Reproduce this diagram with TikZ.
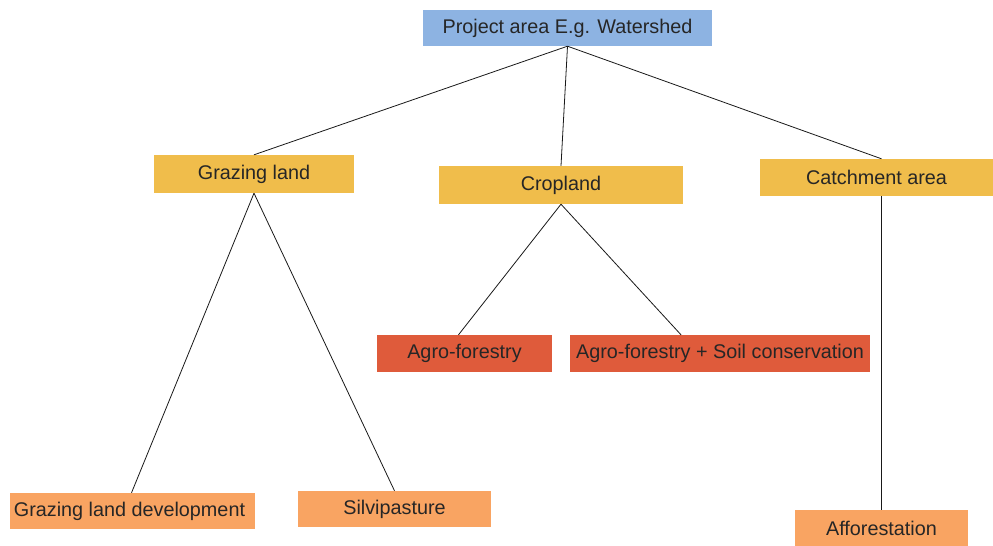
\documentclass[tikz,border=0pt]{standalone}
\usepackage{fontspec}
\setmainfont{Liberation Sans}
\definecolor{cblue}{HTML}{8DB3E2}
\definecolor{cyellow}{HTML}{F0BD4B}
\definecolor{cred}{HTML}{DF5B3B}
\definecolor{corange}{HTML}{F9A462}
\definecolor{ctext}{HTML}{262626}
\begin{document}
\begin{tikzpicture}[x=1pt,y=-1pt,
  box/.style={inner sep=0pt, text=ctext, font=\fontsize{19.8}{22}\selectfont, anchor=center},
  blue/.style={box, fill=cblue},
  yel/.style={box, fill=cyellow},
  redb/.style={box, fill=cred},
  ora/.style={box, fill=corange},
  link/.style={draw=black!90, line width=0.8pt}]
\useasboundingbox[fill=white] (0,0) rectangle (993,546);
\node[blue, minimum width=289pt, minimum height=36pt] (proj) at (567.5,28) {Project area E.g. Watershed};
\node[yel, minimum width=200pt, minimum height=38pt] (graz) at (254,174) {Grazing land};
\node[yel, minimum width=244pt, minimum height=38pt] (crop) at (561,185) {Cropland};
\node[yel, minimum width=233pt, minimum height=37pt] (catch) at (876.5,177.5) {Catchment area};
\node[redb, minimum width=175pt, minimum height=37pt] (agro) at (464.5,353.5) {Agro-forestry};
\node[redb, minimum width=300pt, minimum height=37pt] (agsoil) at (720,353.5) {Agro-forestry + Soil conservation};
\node[ora, minimum width=245pt, minimum height=36pt] (gdev) at (132.5,511) {Grazing land development\hspace*{6pt}};
\node[ora, minimum width=193pt, minimum height=36pt] (silvi) at (394.5,509) {Silvipasture};
\node[ora, minimum width=173pt, minimum height=36pt] (aff) at (881.5,528) {\raisebox{-3pt}{Afforestation}};
\coordinate (catchtop) at (aff.north |- catch.north);
\coordinate (catchbot) at (aff.north |- catch.south);
\draw[link] (proj.south) -- (graz.north);
\draw[link] (proj.south) -- (crop.north);
\draw[link] (proj.south) -- (catchtop);
\draw[link] (graz.south) -- ([xshift=-1pt]gdev.north);
\draw[link] (graz.south) -- (silvi.north);
\draw[link] (crop.south) -- ([xshift=-6pt]agro.north);
\draw[link] (crop.south) -- ([xshift=-39pt]agsoil.north);
\draw[link] (catchbot) -- (aff.north);
\end{tikzpicture}
\end{document}
